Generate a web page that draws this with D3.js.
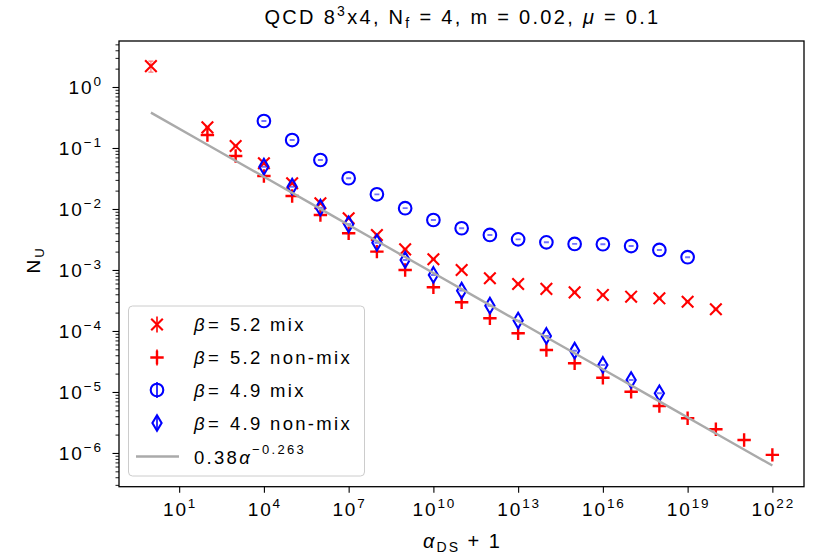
<!DOCTYPE html>
<html>
<head>
<meta charset="utf-8">
<script src="https://cdn.jsdelivr.net/npm/d3@7"></script>
<style>
  html, body { margin: 0; padding: 0; background: #fff; }
  svg { display: block; font-family: "Liberation Sans", Arial, sans-serif; }
</style>
</head>
<body>
<svg id="chart" width="815" height="555"></svg>
<script>
// α_DS + 1 for each measured point
const xMix52    = [1, 1e2, 1e3, 1e4, 1e5, 1e6, 1e7, 1e8, 1e9, 1e10, 1e11, 1e12, 1e13, 1e14, 1e15, 1e16, 1e17, 1e18, 1e19, 1e20];
const xNonMix52 = [1e2, 1e3, 1e4, 1e5, 1e6, 1e7, 1e8, 1e9, 1e10, 1e11, 1e12, 1e13, 1e14, 1e15, 1e16, 1e17, 1e18, 1e19, 1e20, 1e21, 1e22];
const xMix49    = [1e4, 1e5, 1e6, 1e7, 1e8, 1e9, 1e10, 1e11, 1e12, 1e13, 1e14, 1e15, 1e16, 1e17, 1e18, 1e19];
const xNonMix49 = [1e4, 1e5, 1e6, 1e7, 1e8, 1e9, 1e10, 1e11, 1e12, 1e13, 1e14, 1e15, 1e16, 1e17, 1e18];

// N_U values
const yMix52    = [2.2, 0.218, 0.108, 0.0561, 0.0264, 0.0124, 0.00704, 0.00375, 0.00218, 0.0015, 0.001, 0.00073, 0.00059, 0.00049, 0.00043, 0.00039, 0.000365, 0.000343, 0.000302, 0.000227];
const yNonMix52 = [0.163, 0.074, 0.0347, 0.0163, 0.00797, 0.004, 0.002, 0.001, 0.00052, 0.000295, 0.000162, 0.0000917, 0.0000488, 0.0000295, 0.0000171, 0.0000101, 0.0000059, 0.0000037, 0.00000245, 0.00000163, 0.00000093];
const yMix49    = [0.277, 0.135, 0.0636, 0.0319, 0.0174, 0.0103, 0.0066, 0.00483, 0.00375, 0.00318, 0.00284, 0.00267, 0.00264, 0.00247, 0.00213, 0.00162];
const yNonMix49 = [0.0494, 0.0232, 0.0105, 0.00561, 0.0028, 0.00146, 0.000828, 0.000458, 0.00026, 0.000148, 0.0000828, 0.0000475, 0.0000277, 0.0000157, 0.0000095];

// statistical errors on N_U
const eMix52    = [0.45, 0.004, 0.002, 0.001, 0.0005, 0.0002, 0.0001, 0.00005, 0.00003, 0.00002, 0.00001, 0.00001, 0.000008, 0.000007, 0.000006, 0.000006, 0.000005, 0.000005, 0.000005, 0.000004];
const eNonMix52 = [0.002, 0.001, 0.0005, 0.0002, 0.0001, 0.00005, 0.00003, 0.00001, 0.000006, 0.000004, 0.000002, 0.000001, 0.0000006, 0.0000004, 0.0000002, 0.0000001, 0.00000008, 0.00000005, 0.00000003, 0.00000002, 0.00000001];
const eMix49    = [0.004, 0.002, 0.0009, 0.0004, 0.0002, 0.00012, 0.00008, 0.00006, 0.00005, 0.00004, 0.00004, 0.00003, 0.00003, 0.00003, 0.00003, 0.00002];
const eNonMix49 = [0.0007, 0.0003, 0.00015, 0.00007, 0.00004, 0.00002, 0.00001, 0.000006, 0.000004, 0.000002, 0.000001, 0.0000007, 0.0000004, 0.0000002, 0.00000015];

// power-law fit N_U = A * (α+1)^p
const fitA = 0.38;
const fitP = -0.263;
const fitX = [1, 1e2, 1e4, 1e6, 1e8, 1e10, 1e12, 1e14, 1e16, 1e18, 1e20, 1e22];

const xTickExps = [1, 4, 7, 10, 13, 16, 19, 22];
const yTickExps = [0, -1, -2, -3, -4, -5, -6];

const legendItems = [
  { marker: "x",       color: "red",  label: "5.2 mix" },
  { marker: "plus",    color: "red",  label: "5.2 non-mix" },
  { marker: "circle",  color: "blue", label: "4.9 mix" },
  { marker: "diamond", color: "blue", label: "4.9 non-mix" }
];

const svg = d3.select("#chart");
const plotL = 119, plotR = 804, plotT = 41, plotB = 486.7;

const x = d3.scaleLog().domain([Math.pow(10, -1.13), Math.pow(10, 23.12)]).range([plotL, plotR]);
const y = d3.scaleLog().domain([Math.pow(10, -6.553), Math.pow(10, 0.754)]).range([plotB, plotT]);

const clipId = "plotclip";
svg.append("defs").append("clipPath").attr("id", clipId)
  .append("rect").attr("x", plotL).attr("y", plotT).attr("width", plotR - plotL).attr("height", plotB - plotT);
const plot = svg.append("g");

// marker painters
function drawMarker(g, type, cx, cy, color) {
  const sw = 2.1;
  if (type === "x") {
    const s = 5.8;
    g.append("path").attr("d", `M${cx - s},${cy - s}L${cx + s},${cy + s}M${cx - s},${cy + s}L${cx + s},${cy - s}`)
      .attr("stroke", color).attr("stroke-width", sw).attr("fill", "none");
  } else if (type === "plus") {
    const s = 6.7;
    g.append("path").attr("d", `M${cx - s},${cy}L${cx + s},${cy}M${cx},${cy - s}L${cx},${cy + s}`)
      .attr("stroke", color).attr("stroke-width", sw + 0.3).attr("fill", "none");
  } else if (type === "circle") {
    g.append("circle").attr("cx", cx).attr("cy", cy).attr("r", 6.3)
      .attr("stroke", color).attr("stroke-width", sw).attr("fill", "none");
  } else if (type === "diamond") {
    const w = 4.6, h = 7.8;
    g.append("path").attr("d", `M${cx},${cy - h}L${cx + w},${cy}L${cx},${cy + h}L${cx - w},${cy}Z`)
      .attr("stroke", color).attr("stroke-width", sw).attr("fill", "none").attr("stroke-linejoin", "miter");
  }
}

function drawSeries(xs, ys, es, type, color) {
  const g = plot.append("g").attr("clip-path", `url(#${clipId})`);
  xs.forEach((xv, i) => {
    const cx = x(xv);
    const lo = y(Math.max(ys[i] - es[i], 1e-12)), hi = y(ys[i] + es[i]);
    const cap = 2.5;
    g.append("path")
      .attr("d", `M${cx},${lo}L${cx},${hi}M${cx - cap},${lo}L${cx + cap},${lo}M${cx - cap},${hi}L${cx + cap},${hi}`)
      .attr("stroke", color).attr("stroke-width", 1.2).attr("stroke-opacity", 0.55).attr("fill", "none");
    drawMarker(g, type, cx, y(ys[i]), color);
  });
}

drawSeries(xMix52, yMix52, eMix52, "x", "red");
drawSeries(xNonMix52, yNonMix52, eNonMix52, "plus", "red");
drawSeries(xMix49, yMix49, eMix49, "circle", "blue");
drawSeries(xNonMix49, yNonMix49, eNonMix49, "diamond", "blue");

// fit line
plot.append("path")
  .datum(fitX)
  .attr("clip-path", `url(#${clipId})`)
  .attr("d", d3.line().x(d => x(d)).y(d => y(fitA * Math.pow(d, fitP))))
  .attr("stroke", "#aaaaaa").attr("stroke-width", 2.4).attr("fill", "none");

// axes
const xAxis = d3.axisBottom(x)
  .tickValues(xTickExps.map(e => Math.pow(10, e)))
  .tickSize(6).tickFormat("");
const gx = svg.append("g").attr("transform", `translate(0,${plotB})`).call(xAxis);
gx.select(".domain").remove();
gx.selectAll(".tick line").attr("stroke", "#000").attr("stroke-width", 1.1);

const yMinor = [];
for (let e = -7; e <= 0; e++) for (let m = 2; m <= 9; m++) {
  const v = m * Math.pow(10, e);
  if (v >= y.domain()[0] && v <= y.domain()[1]) yMinor.push(v);
}
const gyMinor = svg.append("g").attr("transform", `translate(${plotL},0)`)
  .call(d3.axisLeft(y).tickValues(yMinor).tickSize(3.5).tickFormat(""));
gyMinor.select(".domain").remove();
gyMinor.selectAll(".tick line").attr("stroke", "#000").attr("stroke-width", 0.9);

const gy = svg.append("g").attr("transform", `translate(${plotL},0)`)
  .call(d3.axisLeft(y).tickValues(yTickExps.map(e => Math.pow(10, e))).tickSize(6.5).tickFormat(""));
gy.select(".domain").remove();
gy.selectAll(".tick line").attr("stroke", "#000").attr("stroke-width", 1.1);

// tick labels as 10^n
const tickFont = 19, supFont = 13.5, ls = 1.9;
xTickExps.forEach(e => {
  const t = svg.append("text").attr("x", x(Math.pow(10, e)) + ls / 2).attr("y", 516)
    .attr("text-anchor", "middle").attr("font-size", tickFont).attr("letter-spacing", ls).attr("fill", "#000");
  t.append("tspan").text("10");
  t.append("tspan").attr("font-size", supFont).attr("dy", -8).text(String(e));
});
yTickExps.forEach(e => {
  const t = svg.append("text").attr("x", 101 + ls).attr("y", y(Math.pow(10, e)) + 6.8)
    .attr("text-anchor", "end").attr("font-size", tickFont).attr("letter-spacing", ls).attr("fill", "#000");
  t.append("tspan").text("10");
  t.append("tspan").attr("font-size", supFont).attr("dy", -8)
    .text(e === 0 ? "0" : "\u2212" + Math.abs(e));
});

// frame
svg.append("rect").attr("x", plotL).attr("y", plotT).attr("width", plotR - plotL).attr("height", plotB - plotT)
  .attr("fill", "none").attr("stroke", "#000").attr("stroke-width", 1.3);

// title
const title = svg.append("text").attr("x", (plotL + plotR) / 2 + 1).attr("y", 24)
  .attr("text-anchor", "middle").attr("font-size", 20).attr("letter-spacing", 2.3).attr("fill", "#000");
title.append("tspan").text("QCD 8");
title.append("tspan").attr("font-size", 14).attr("dy", -8).text("3");
title.append("tspan").attr("dy", 8).text("x4, N");
title.append("tspan").attr("font-size", 14).attr("dy", 4).text("f");
title.append("tspan").attr("dy", -4).text(" = 4, m = 0.02, ");
title.append("tspan").attr("font-style", "italic").text("\u03bc");
title.append("tspan").text(" = 0.1");

// axis labels
const xl = svg.append("text").attr("x", (plotL + plotR) / 2 + 1).attr("y", 548)
  .attr("text-anchor", "middle").attr("font-size", 20).attr("letter-spacing", 2).attr("fill", "#000");
xl.append("tspan").attr("font-style", "italic").text("\u03b1");
xl.append("tspan").attr("font-size", 14).attr("dy", 4).text("DS");
xl.append("tspan").attr("dy", -4).text(" + 1");

const yl = svg.append("text").attr("transform", `translate(40,260) rotate(-90)`)
  .attr("text-anchor", "middle").attr("font-size", 19).attr("letter-spacing", 2).attr("fill", "#000");
yl.append("tspan").text("N");
yl.append("tspan").attr("font-size", 13).attr("dy", 4).text("U");

// legend
const lg = svg.append("g");
lg.append("rect").attr("x", 128.5).attr("y", 306).attr("width", 236).attr("height", 170).attr("rx", 4)
  .attr("fill", "#fff").attr("fill-opacity", 0.8).attr("stroke", "#cccccc").attr("stroke-width", 1);
const rowY = [324.5, 357.5, 390, 423, 455.5];
legendItems.forEach((it, i) => {
  const cy = rowY[i], cx = 157;
  lg.append("line").attr("x1", cx).attr("x2", cx).attr("y1", cy - 8).attr("y2", cy + 8)
    .attr("stroke", it.color).attr("stroke-width", 1.6);
  drawMarker(lg, it.marker, cx, cy, it.color);
  const t = lg.append("text").attr("x", 194).attr("y", cy + 6.5).attr("font-size", 18.5)
    .attr("letter-spacing", 2.3).attr("fill", "#000");
  t.append("tspan").attr("font-style", "italic").text("\u03b2");
  t.append("tspan").attr("dx", 1).text("=");
  t.append("tspan").attr("dx", 9).text(it.label);
});
lg.append("line").attr("x1", 136).attr("x2", 179).attr("y1", rowY[4] + 1).attr("y2", rowY[4] + 1)
  .attr("stroke", "#aaaaaa").attr("stroke-width", 2.4);
const lt = lg.append("text").attr("x", 194).attr("y", rowY[4] + 8).attr("font-size", 18.5)
  .attr("letter-spacing", 2.3).attr("fill", "#000");
lt.append("tspan").text(String(fitA));
lt.append("tspan").attr("font-style", "italic").text("\u03b1");
lt.append("tspan").attr("font-size", 13).attr("dy", -10).text("\u2212" + Math.abs(fitP));
</script>
</body>
</html>
